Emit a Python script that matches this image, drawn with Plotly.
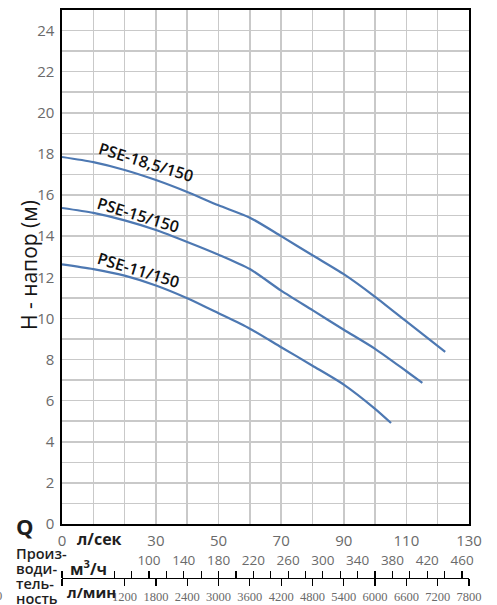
import plotly.graph_objects as go

# ---- data ----
q_18 = [0, 10, 20, 30, 40, 50, 60, 70, 80, 90, 100, 110, 122.4]
h_18 = [17.85, 17.6, 17.22, 16.73, 16.15, 15.5, 14.9, 14.0, 13.07, 12.15, 11.05, 9.85, 8.37]

q_15 = [0, 10, 20, 30, 40, 50, 60, 70, 80, 90, 100, 110, 115.1]
h_15 = [15.37, 15.13, 14.77, 14.3, 13.72, 13.1, 12.4, 11.35, 10.4, 9.45, 8.52, 7.43, 6.86]

q_11 = [0, 10, 20, 30, 40, 50, 60, 70, 80, 90, 100, 105.1]
h_11 = [12.63, 12.4, 12.08, 11.6, 10.98, 10.25, 9.5, 8.6, 7.7, 6.78, 5.6, 4.91]

series_names = ["PSE-18,5/150", "PSE-15/150", "PSE-11/150"]
label_q = [26.8, 24.5, 24.4]
label_h = [17.6, 15.05, 12.34]

q_ticks = list(range(0, 131, 10))
q_labels = ["0", "", "", "30", "", "50", "", "70", "", "90", "", "110", "", "130"]
h_ticks = list(range(0, 25))
h_labels = [str(v) if v % 2 == 0 else "" for v in h_ticks]

m3h_ticks = [0] + list(range(60, 461, 20))
m3h_labels = [str(v) if (v >= 100 and (v - 100) % 40 == 0) else "" for v in m3h_ticks]
lmin_ticks = [0] + list(range(1200, 7801, 600))
lmin_labels = [""] + [str(v) for v in range(1200, 7801, 600)]

# ---- layout geometry ----
W, H = 497, 605
ML, MR, MT, MB = 62, 28, 10, 20
PW = W - ML - MR
PH = H - MT - MB
plot_bottom_px = 524
sec_line_px = 577.7


def px_x(p):
    return (p - ML) / PW


def px_y(p):
    return (H - MB - p) / PH


LINE_COLOR = "#4d78b2"
TICK_COLOR = "#6a6a6a"
TEXT_COLOR = "#1e1e1e"

fig = go.Figure()
for q, h, name in zip([q_18, q_15, q_11], [h_18, h_15, h_11], series_names):
    fig.add_trace(go.Scatter(
        x=q, y=h, mode="lines", name=name,
        line=dict(color=LINE_COLOR, width=2.2, shape="spline", smoothing=0.7),
        showlegend=False, hoverinfo="skip",
    ))
# empty traces so that the two flow-unit axes are drawn
fig.add_trace(go.Scatter(x=[], y=[], xaxis="x2", yaxis="y", showlegend=False))
fig.add_trace(go.Scatter(x=[], y=[], xaxis="x3", yaxis="y", showlegend=False))

annotations = []
for name, lq, lh in zip(series_names, label_q, label_h):
    annotations.append(dict(
        x=lq, y=lh, xref="x", yref="y", text=name, showarrow=False,
        textangle=17, xanchor="center", yanchor="middle",
        font=dict(family="Open Sans", size=16, color="#111111", weight=600),
    ))

annotations.append(dict(
    x=px_x(29), y=px_y(265), xref="paper", yref="paper",
    text="H - напор (м)", textangle=-90, showarrow=False,
    font=dict(family="Open Sans", size=21, color="#151515", weight=500),
    xanchor="center", yanchor="middle",
))

bold = dict(family="Open Sans", color=TEXT_COLOR, weight=700)
annotations += [
    dict(x=px_x(25), y=px_y(526), text="Q", font=dict(bold, size=22)),
    dict(x=px_x(99), y=px_y(539), text="л/сек", font=dict(bold, size=16)),
    dict(x=px_x(88), y=px_y(568), text="м<sup>3</sup>/ч", font=dict(bold, size=16)),
    dict(x=px_x(91), y=px_y(592), text="л/мин", font=dict(bold, size=15)),
]
for i, word in enumerate(["Произ-", "води-", "тель-", "ность"]):
    annotations.append(dict(
        x=px_x(14), y=px_y(553.5 + 15 * i), text=word, xanchor="left",
        font=dict(family="Open Sans", size=14.5, color=TEXT_COLOR, weight=600),
    ))
annotations.append(dict(
    x=px_x(4), y=px_y(596), text="0", xanchor="right",
    font=dict(family="Liberation Sans Narrow", size=12.5, color=TICK_COLOR),
))
for a in annotations:
    a.setdefault("xref", "paper")
    a.setdefault("yref", "paper")
    a.setdefault("showarrow", False)
    a.setdefault("yanchor", "middle")
    a.setdefault("xanchor", "center")

y_dom0 = px_y(plot_bottom_px)
sec_pos = px_y(sec_line_px)

fig.update_layout(
    width=W, height=H,
    margin=dict(l=ML, r=MR, t=MT, b=MB, autoexpand=False),
    paper_bgcolor="white", plot_bgcolor="white",
    annotations=annotations,
    xaxis=dict(
        range=[0, 130], domain=[0, 1], anchor="y",
        tickmode="array", tickvals=q_ticks, ticktext=q_labels,
        showgrid=True, gridcolor="#c9c9c9", gridwidth=1.5,
        showline=True, linecolor="black", linewidth=1.6, mirror=True,
        zeroline=False, ticks="",
        tickfont=dict(family="Open Sans", size=15, color=TICK_COLOR),
        ticklabelstandoff=2,
    ),
    yaxis=dict(
        range=[0, 25], domain=[y_dom0, 1], anchor="x",
        tickmode="array", tickvals=h_ticks, ticktext=h_labels,
        showgrid=True, gridcolor="#c9c9c9", gridwidth=1.5,
        showline=True, linecolor="black", linewidth=1.6, mirror=True,
        zeroline=False, ticks="",
        tickfont=dict(family="Open Sans", size=15, color=TICK_COLOR),
        ticklabelstandoff=3,
    ),
    xaxis2=dict(
        range=[0, 468], domain=[0, 1], overlaying="x", anchor="free",
        position=sec_pos, side="top",
        tickmode="array", tickvals=m3h_ticks, ticktext=m3h_labels,
        ticks="outside", ticklen=7, tickwidth=1.2, tickcolor="black",
        showline=True, linecolor="black", linewidth=1.6,
        showgrid=False, zeroline=False,
        tickfont=dict(family="Open Sans", size=13.5, color=TICK_COLOR),
    ),
    xaxis3=dict(
        range=[0, 7800], domain=[0, 1], overlaying="x", anchor="free",
        position=sec_pos, side="bottom",
        tickmode="array", tickvals=lmin_ticks, ticktext=lmin_labels,
        ticks="outside", ticklen=7, tickwidth=1.2, tickcolor="black",
        showline=False, showgrid=False, zeroline=False,
        tickfont=dict(family="Liberation Sans Narrow", size=12.5, color=TICK_COLOR),
    ),
)

fig.write_html(
    "out.html",
    config={"displayModeBar": False, "staticPlot": True},
    post_script="document.body.style.margin='0';",
)
